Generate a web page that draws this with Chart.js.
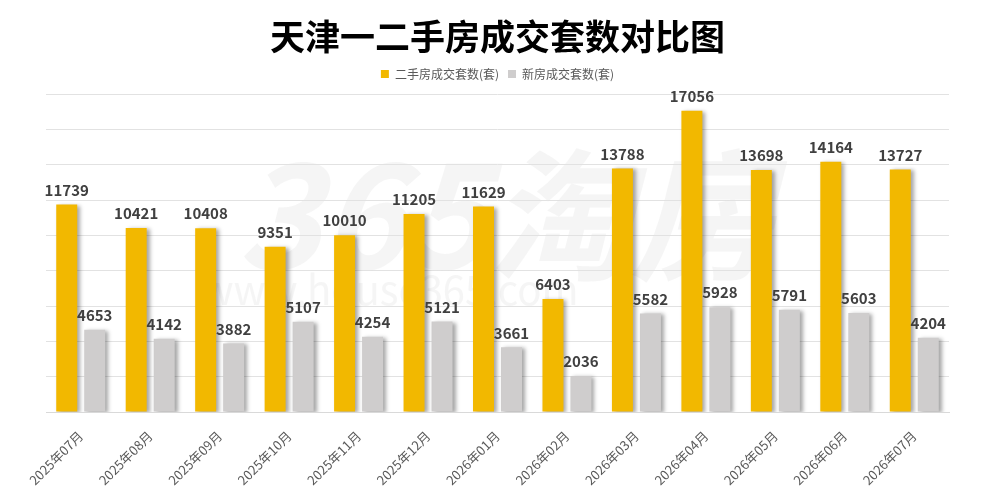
<!DOCTYPE html>
<html>
<head>
<meta charset="utf-8">
<script src="https://cdn.jsdelivr.net/npm/chart.js@4/dist/chart.umd.min.js"></script>
<style>
  html, body { margin: 0; padding: 0; background: #fff; }
  #wrap { width: 991px; height: 496px; }
</style>
</head>
<body>
<div id="wrap"><canvas id="chart" width="991" height="496"></canvas></div>
<script>
// months on the x axis
var months = ["2025年07月", "2025年08月", "2025年09月", "2025年10月", "2025年11月", "2025年12月",
              "2026年01月", "2026年02月", "2026年03月", "2026年04月", "2026年05月", "2026年06月", "2026年07月"];
// second-hand homes sold (units)
var secondHand = [11739, 10421, 10408, 9351, 10010, 11205, 11629, 6403, 13788, 17056, 13698, 14164, 13727];
// new homes sold (units)
var newHomes = [4653, 4142, 3882, 5107, 4254, 5121, 3661, 2036, 5582, 5928, 5791, 5603, 4204];

var cjk = '"Noto Sans CJK SC", "Noto Sans", sans-serif';

// leave a little extra room under the legend
var legendGap = {
    id: "legendGap",
    beforeLayout: function(chart) {
        var lg = chart.legend;
        if (lg && !lg._gapPatched) {
            var fit = lg.fit;
            lg.fit = function() {
                fit.call(this);
                this.height += 4;
            };
            lg._gapPatched = true;
        }
    }
};

// faint site watermark behind the bars
var watermark = {
    id: "watermark",
    beforeDatasetsDraw: function(chart) {
        var ctx = chart.ctx;
        ctx.save();
        ctx.fillStyle = "rgba(225,225,225,0.35)";
        ctx.font = "bold italic 142px " + cjk;
        ctx.textAlign = "center";
        ctx.textBaseline = "middle";
        ctx.fillText("365淘房", 505, 215);
        ctx.font = "40px " + cjk;
        ctx.fillText("www.house365.com", 390, 290);
        ctx.restore();
    }
};

// soft shadow on the bars, then value labels on top
var barShadow = {
    id: "barShadow",
    beforeDatasetsDraw: function(chart) {
        var ctx = chart.ctx;
        ctx.save();
        ctx.shadowColor = "rgba(0,0,0,0.35)";
        ctx.shadowBlur = 4;
        ctx.shadowOffsetX = 3;
        ctx.shadowOffsetY = 1;
    },
    afterDatasetsDraw: function(chart) {
        var ctx = chart.ctx;
        ctx.restore();
        ctx.save();
        ctx.font = "bold 15px " + cjk;
        ctx.fillStyle = "#404040";
        ctx.textAlign = "center";
        ctx.textBaseline = "bottom";
        chart.data.datasets.forEach(function(ds, i) {
            var meta = chart.getDatasetMeta(i);
            meta.data.forEach(function(bar, j) {
                ctx.fillText(ds.data[j], bar.x, bar.y - 7);
            });
        });
        ctx.restore();
    }
};

new Chart(document.getElementById("chart"), {
    type: "bar",
    data: {
        labels: months,
        datasets: [
            { label: "二手房成交套数(套)", data: secondHand, backgroundColor: "#F2B800",
              categoryPercentage: 0.806, barPercentage: 0.75 },
            { label: "新房成交套数(套)", data: newHomes, backgroundColor: "#CFCDCD",
              categoryPercentage: 0.806, barPercentage: 0.75 }
        ]
    },
    options: {
        responsive: false,
        animation: false,
        devicePixelRatio: 1,
        layout: { padding: { left: 46, right: 42, top: 0, bottom: 0 } },
        plugins: {
            title: {
                display: true,
                text: "天津一二手房成交套数对比图",
                color: "#000",
                font: { family: cjk, size: 35, weight: "bold" },
                padding: { top: 16, bottom: 1 }
            },
            legend: {
                display: true,
                labels: {
                    boxWidth: 8, boxHeight: 8, padding: 9,
                    color: "#595959",
                    font: { family: cjk, size: 12 }
                }
            },
            tooltip: { enabled: false }
        },
        scales: {
            x: {
                grid: { display: false },
                border: { display: true, color: "#D9D9D9" },
                ticks: {
                    color: "#595959",
                    font: { family: cjk, size: 13 },
                    minRotation: 45, maxRotation: 45,
                    padding: 8
                },
                afterFit: function(scale) { scale.height = 84; }
            },
            y: {
                min: 0, max: 18000,
                ticks: { display: false, stepSize: 2000 },
                border: { display: false },
                grid: { color: "#E2E2E2", borderDash: [1, 2], tickLength: 0 }
            }
        }
    },
    plugins: [legendGap, watermark, barShadow]
});
</script>
</body>
</html>
